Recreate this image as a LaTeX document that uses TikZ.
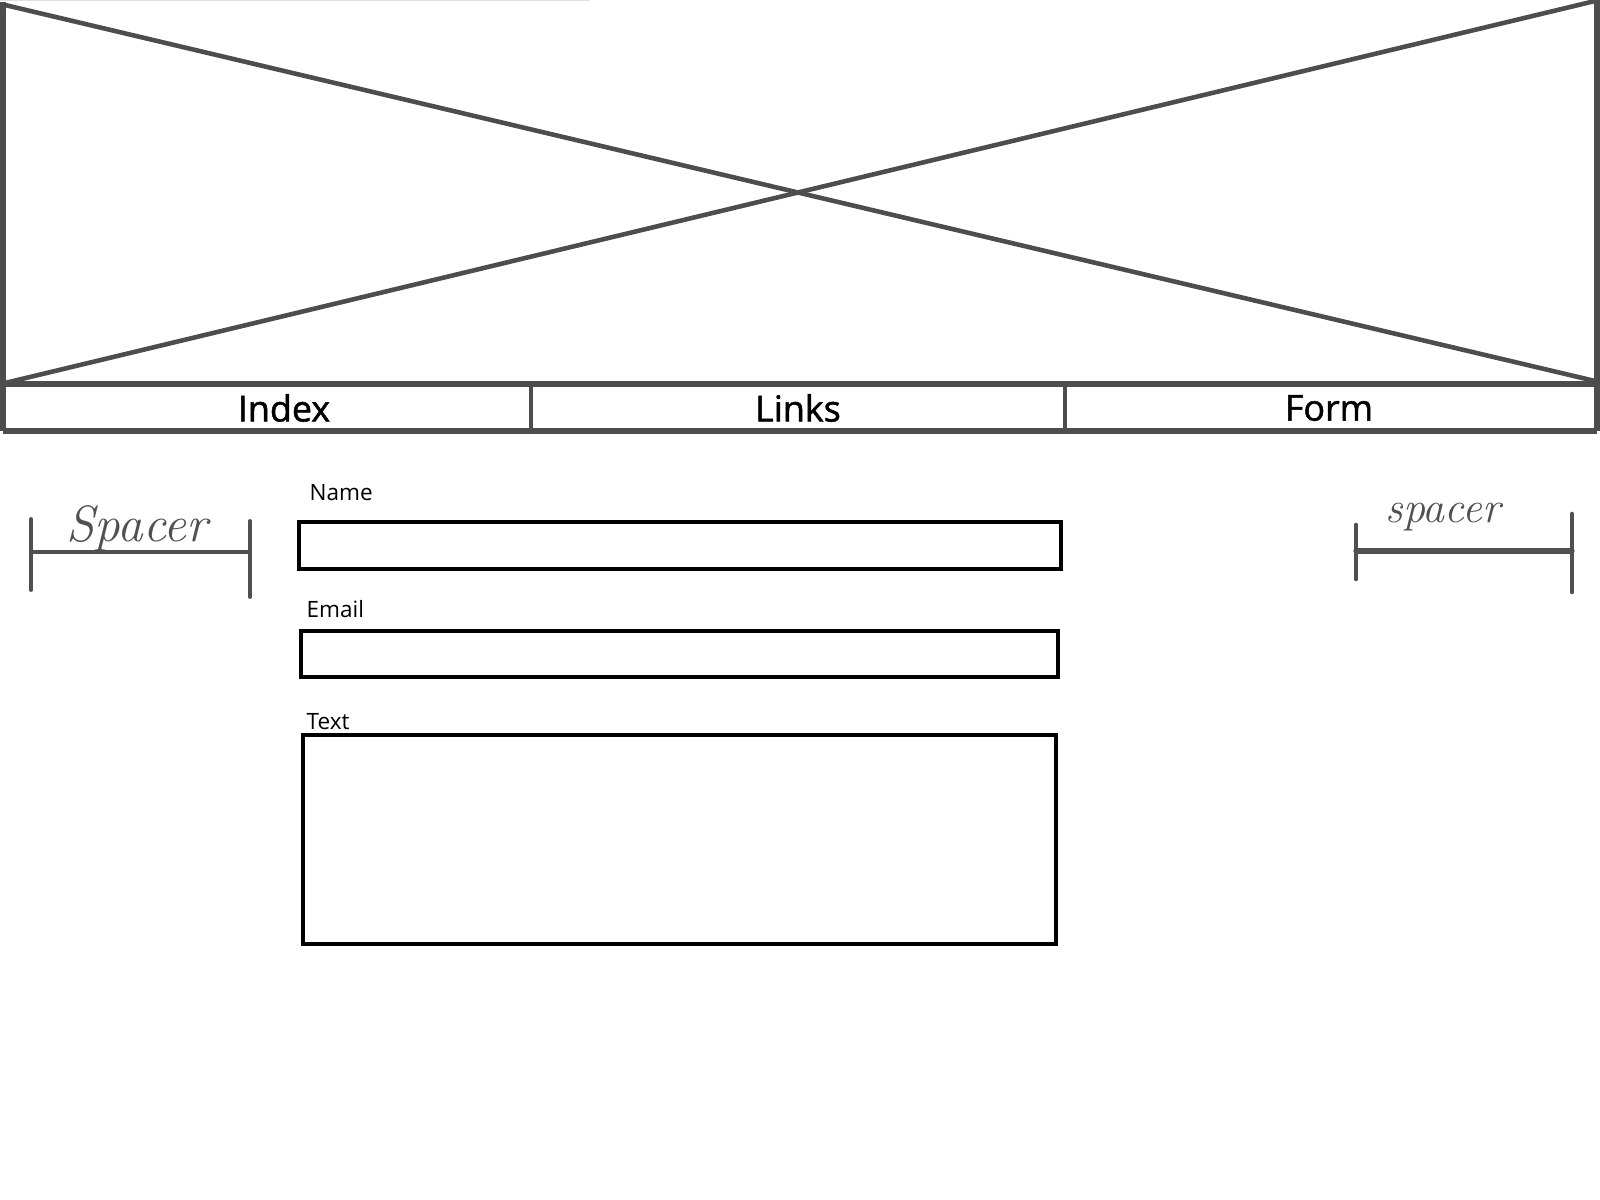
\documentclass[tikz,border=0pt]{standalone}
\usepackage{fontspec}
\setmainfont{Open Sans}
\newfontfamily\navfont[BoldFont={Open Sans}, BoldFeatures={FakeBold=1.4}]{Open Sans}
\newfontfamily\handfont{Latin Modern Roman}
\definecolor{frame}{HTML}{4D4D4D}
\definecolor{hand}{HTML}{505050}
\tikzset{
  wire/.style={draw=frame, line width=1.45pt},
  cross/.style={draw=frame, line width=1.3pt},
  field/.style={draw=black, line width=0.95pt},
  navtext/.style={font=\navfont\bfseries\fontsize{10.2}{12}\selectfont, text=black, inner sep=0pt},
  lbl/.style={font=\fontsize{6.4}{8}\selectfont, text=black, inner sep=0pt, anchor=west},
  spacerline/.style={draw=hand, line width=1.1pt, line cap=round},
  spacertext/.style={font=\handfont\itshape\fontsize{14.5}{16}\selectfont, text=hand, inner sep=0pt},
}
\begin{document}
\begin{tikzpicture}[x=0.01cm,y=-0.01cm]
\useasboundingbox (0,0) rectangle (1600,1200);
\fill[white] (0,0) rectangle (1600,1200);
% faint top edge
\draw[gray!25, line width=0.4pt] (0,0.5) -- (590,0.5);
% banner corners
\coordinate (tl) at (3,2);
\coordinate (tr) at (1597,0);
\coordinate (bl) at (3,384);
\coordinate (br) at (1597,384);
\coordinate (nbl) at (3,431);
\coordinate (nbr) at (1597,431);
% image placeholder cross
\draw[cross] (5,5) -- (1595,381);
\draw[cross] (1595,1) -- (5,383);
% banner frame and nav bar
\draw[wire] (tl) -- (nbl);
\draw[wire] (tr) -- (nbr);
\draw[wire] (bl) -- (br);
\draw[wire] (nbl) -- (nbr);
\coordinate (d1t) at (531,384); \coordinate (d1b) at (531,431);
\coordinate (d2t) at (1065,384); \coordinate (d2b) at (1065,431);
\draw[wire, line width=1.1pt] (d1t) -- (d1b);
\draw[wire, line width=1.1pt] (d2t) -- (d2b);
\node[navtext] (index) at (284,408) {Index};
\node[navtext] (links) at (798,408) {Links};
\node[navtext] (form) at (1329,408) {Form};
% form fields
\node[lbl] (lname) at (309,493) {Name};
\draw[field] (299,522) rectangle (1061,569);
\node[lbl] (lemail) at (306,609) {Email};
\draw[field] (301,631) rectangle (1058,677);
\node[lbl] (ltext) at (306,722) {Text};
\draw[field] (303,735) rectangle (1056,944);
% left spacer
\coordinate (ls1) at (31,519); \coordinate (ls2) at (31,590);
\coordinate (ls3) at (250,521); \coordinate (ls4) at (250,597);
\coordinate (lh1) at (31,552); \coordinate (lh2) at (250,552);
\draw[spacerline] (ls1) -- (ls2);
\draw[spacerline] (ls3) -- (ls4);
\draw[spacerline] (lh1) -- (lh2);
\node[spacertext] (lsp) at (137,528) {Spacer};
% right spacer
\coordinate (rs1) at (1356,525); \coordinate (rs2) at (1356,579);
\coordinate (rs3) at (1572,514); \coordinate (rs4) at (1572,592);
\coordinate (rh1) at (1356,551); \coordinate (rh2) at (1572,551);
\draw[spacerline, line width=1.3pt] (rs1) -- (rs2);
\draw[spacerline, line width=1.3pt] (rs3) -- (rs4);
\draw[spacerline, line width=1.5pt] (rh1) -- (rh2);
\node[spacertext, font=\handfont\itshape\fontsize{12.5}{14}\selectfont] (rsp) at (1443,517) {spacer};
\end{tikzpicture}
\end{document}
